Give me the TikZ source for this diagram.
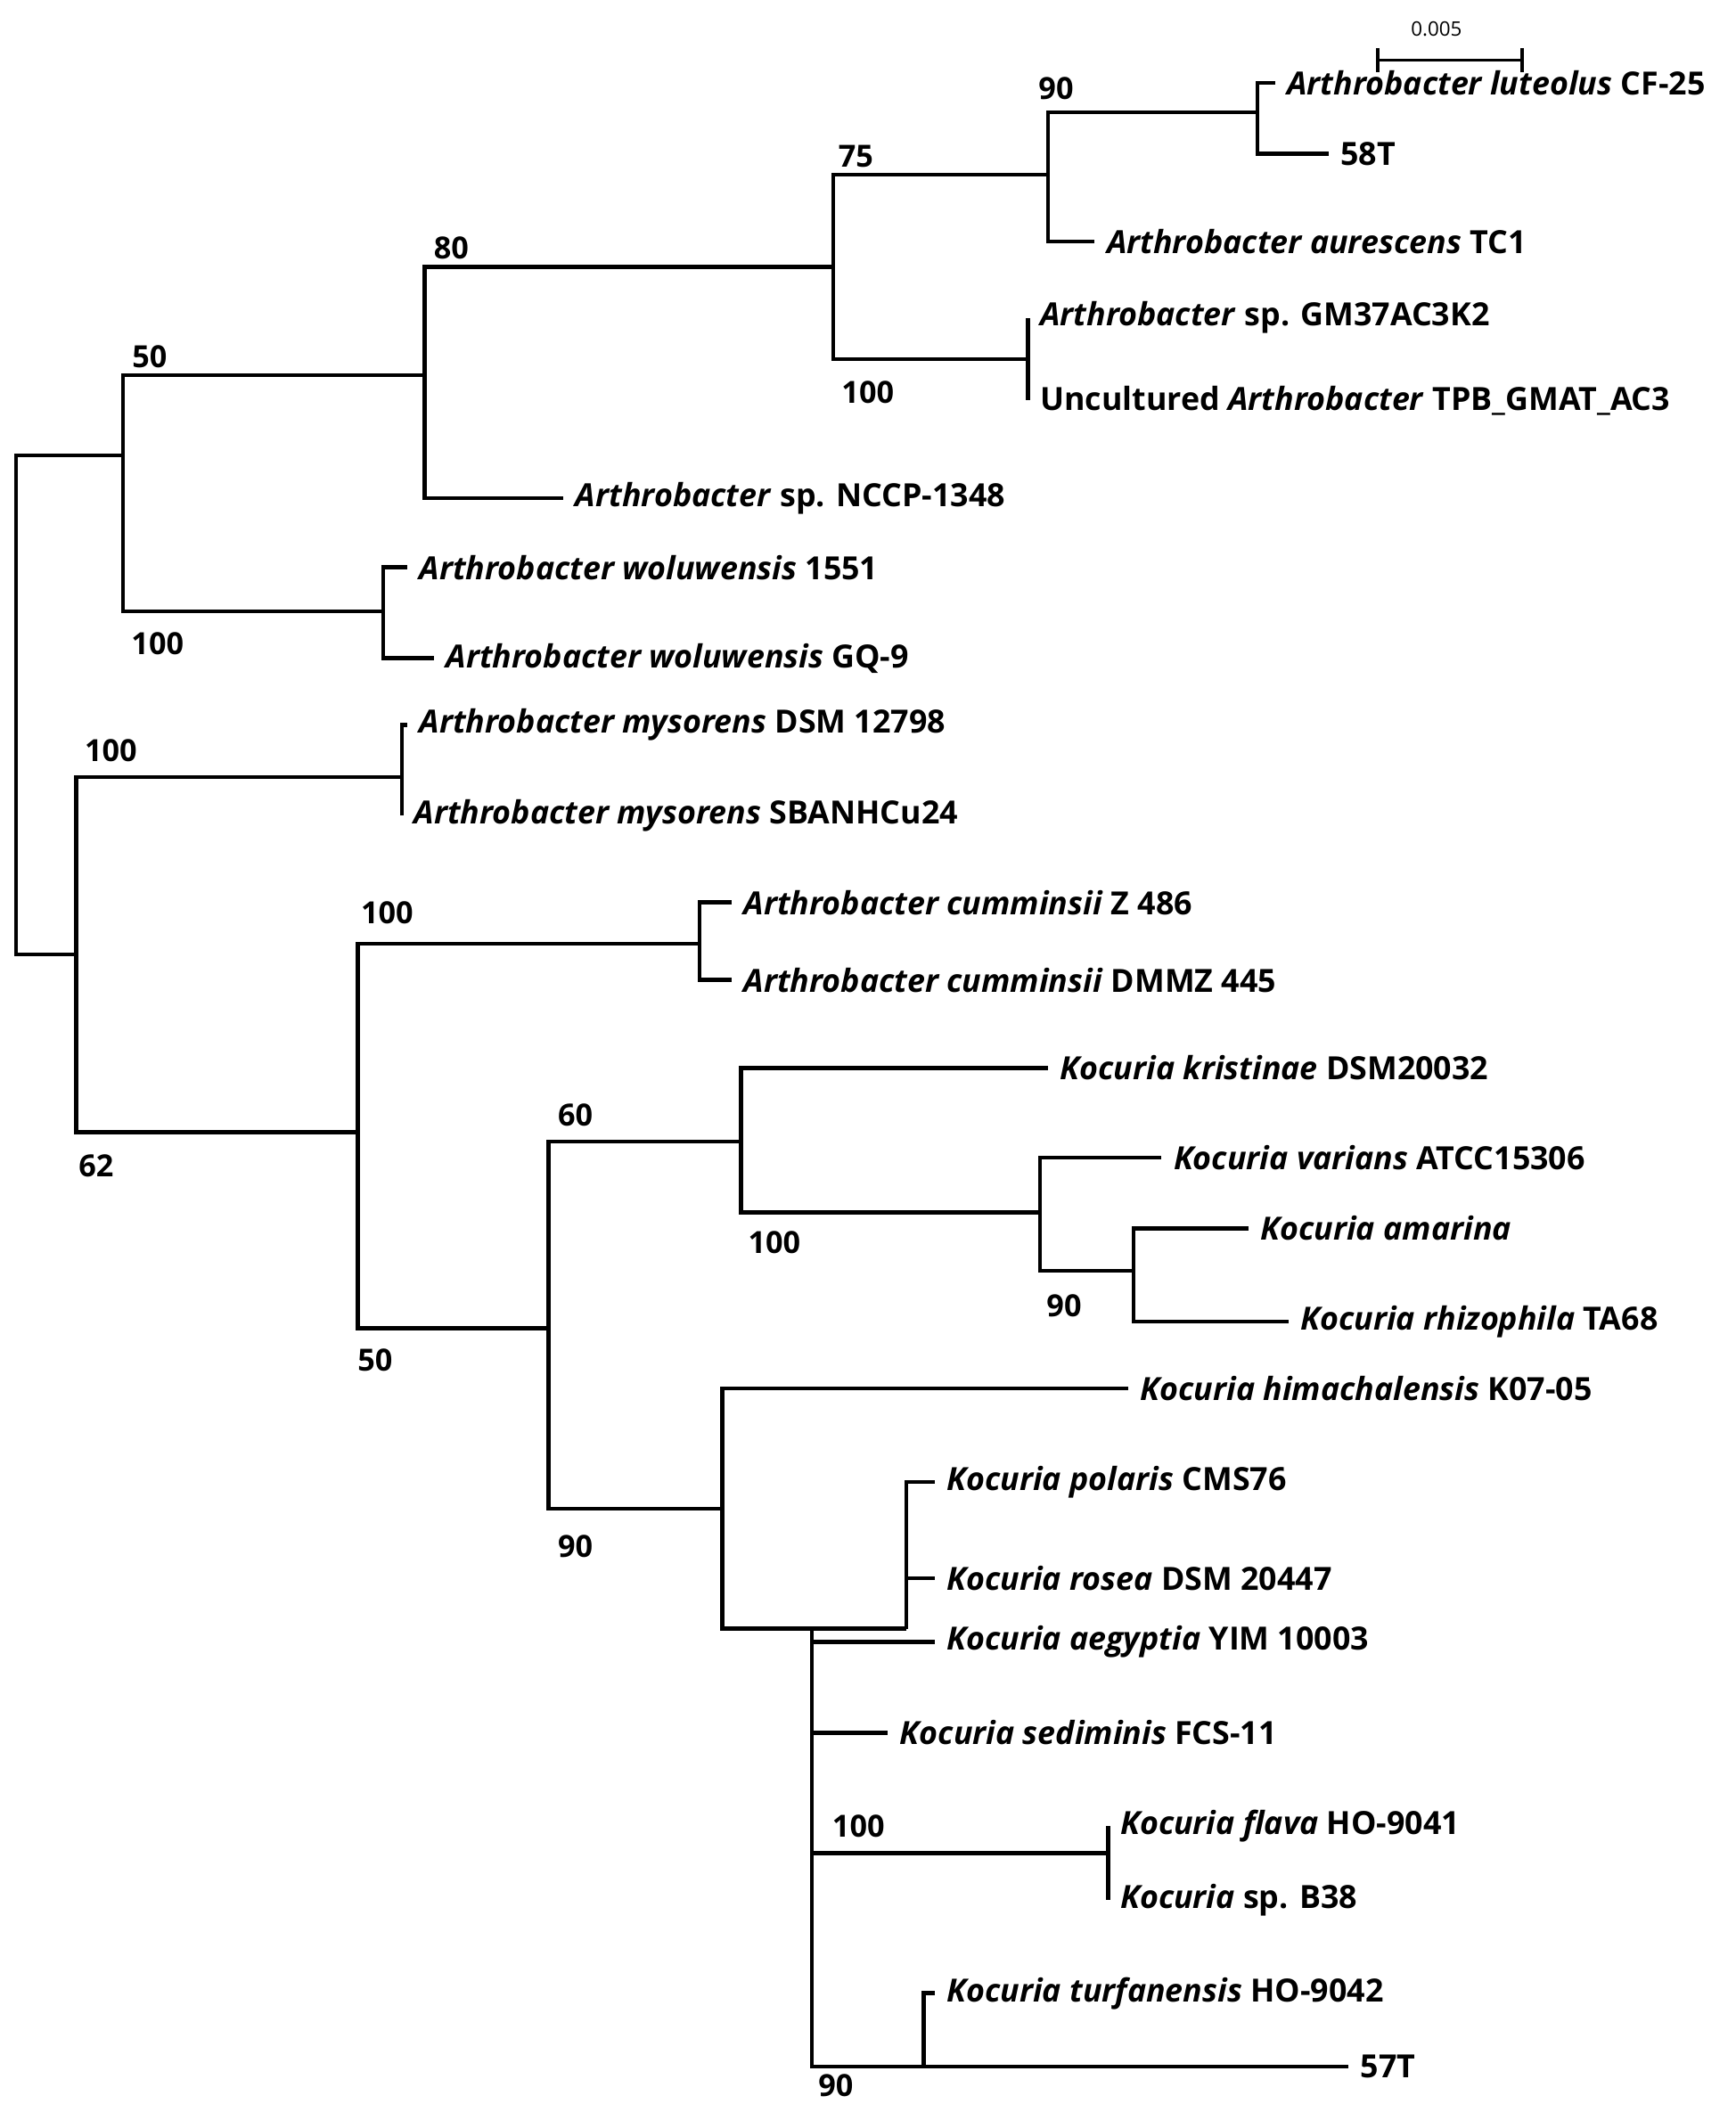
\documentclass[tikz,border=0pt]{standalone}
\usepackage{fontspec}
\setmainfont{Open Sans}
\usetikzlibrary{calc}
\tikzset{
  br/.style={line width=1.7pt},
  tx/.style={anchor=west,inner xsep=5pt,inner ysep=2pt,font=\bfseries\fontsize{13.6}{15}\selectfont},
  bs/.style={inner sep=1pt,font=\bfseries\fontsize{13}{15}\selectfont}
}
\begin{document}
\begin{tikzpicture}[x=0.02cm,y=-0.02cm]
\useasboundingbox (0,0) rectangle (1300,1576);
% internal nodes
\coordinate (root) at (12,528);
\coordinate (n50) at (92,341);
\coordinate (n80) at (318,281);
\coordinate (n75) at (624,200);
\coordinate (n90a) at (785,131);
\coordinate (nlut) at (942,84);
\coordinate (nsp) at (770,269);
\coordinate (nwol) at (287,458);
\coordinate (n62) at (57,715);
\coordinate (nmys) at (301,582);
\coordinate (nko) at (268,848);
\coordinate (ncum) at (524,707);
\coordinate (n50b) at (411,995);
\coordinate (n60) at (555,855);
\coordinate (n100k) at (779,908);
\coordinate (n90k) at (849,952);
\coordinate (n90b) at (541,1130);
\coordinate (npol) at (608,1220);
\coordinate (nros) at (679,1220);
\coordinate (nfla) at (830,1388);
\coordinate (ntur) at (692,1548);
% leaves
\node[tx] (l1) at (955,62) {\textit{Arthrobacter luteolus} CF-25};
\node[tx] (l2) at (995,115) {58T};
\node[tx] (l3) at (820,181) {\textit{Arthrobacter aurescens} TC1};
\node[tx] (l4) at (770,238) {\textit{Arthrobacter} sp. GM37AC3K2};
\node[tx] (l5) at (770,300) {Uncultured \textit{Arthrobacter} TPB\_GMAT\_AC3};
\node[tx] (l6) at (422,373) {\textit{Arthrobacter} sp. NCCP-1348};
\node[tx] (l7) at (305,425) {\textit{Arthrobacter woluwensis} 1551};
\node[tx] (l8) at (325,493) {\textit{Arthrobacter woluwensis} GQ-9};
\node[tx] (l9) at (305,543) {\textit{Arthrobacter mysorens} DSM 12798};
\node[tx] (l10) at (301,611) {\textit{Arthrobacter mysorens} SBANHCu24};
\node[tx] (l11) at (548,676) {\textit{Arthrobacter cumminsii} Z 486};
\node[tx] (l12) at (548,734) {\textit{Arthrobacter cumminsii} DMMZ 445};
\node[tx] (l13) at (785,800) {\textit{Kocuria kristinae} DSM20032};
\node[tx] (l14) at (870,867) {\textit{Kocuria varians} ATCC15306};
\node[tx] (l15) at (935,920) {\textit{Kocuria amarina}};
\node[tx] (l16) at (965,990) {\textit{Kocuria rhizophila} TA68};
\node[tx] (l17) at (845,1040) {\textit{Kocuria himachalensis} K07-05};
\node[tx] (l18) at (700,1110) {\textit{Kocuria polaris} CMS76};
\node[tx] (l19) at (700,1182) {\textit{Kocuria rosea} DSM 20447};
\node[tx] (l20) at (700,1230) {\textit{Kocuria aegyptia} YIM 10003};
\node[tx] (l21) at (665,1298) {\textit{Kocuria sediminis} FCS-11};
\node[tx] (l22) at (830,1368) {\textit{Kocuria flava} HO-9041};
\node[tx] (l23) at (830,1423) {\textit{Kocuria} sp. B38};
\node[tx] (l24) at (700,1493) {\textit{Kocuria turfanensis} HO-9042};
\node[tx] (l25) at (1010,1548) {57T};
% branches
\draw[br] (root) |- (n50); \draw[br] (root) |- (n62);
\draw[br] (n50) |- (n80); \draw[br] (n50) |- (nwol);
\draw[br] (n80) |- (n75); \draw[br] (n80) |- (l6.west);
\draw[br] (n75) |- (n90a); \draw[br] (n75) |- (nsp);
\draw[br] (n90a) |- (nlut); \draw[br] (n90a) |- (l3.west);
\draw[br] (nlut) |- (l1.west); \draw[br] (nlut) |- (l2.west);
\draw[br] (nsp) -- (l4.west); \draw[br] (nsp) -- (l5.west);
\draw[br] (nwol) |- (l7.west); \draw[br] (nwol) |- (l8.west);
\draw[br] (n62) |- (nmys); \draw[br] (n62) |- (nko);
\draw[br] (nmys) |- (l9.west); \draw[br] (nmys) |- (l10.west);
\draw[br] (nko) |- (ncum); \draw[br] (nko) |- (n50b);
\draw[br] (ncum) |- (l11.west); \draw[br] (ncum) |- (l12.west);
\draw[br] (n50b) |- (n60); \draw[br] (n50b) |- (n90b);
\draw[br] (n60) |- (l13.west); \draw[br] (n60) |- (n100k);
\draw[br] (n100k) |- (l14.west); \draw[br] (n100k) |- (n90k);
\draw[br] (n90k) |- (l15.west); \draw[br] (n90k) |- (l16.west);
\draw[br] (n90b) |- (l17.west); \draw[br] (n90b) |- (npol);
\draw[br] (npol) -- (nros);
\draw[br] (nros) |- (l18.west); \draw[br] (nros) |- (l19.west);
\draw[br] (npol) |- (l20.west); \draw[br] (npol) |- (l21.west);
\draw[br] (npol) |- (nfla); \draw[br] (npol) |- (ntur);
\draw[br] (nfla) |- (l22.west); \draw[br] (nfla) |- (l23.west);
\draw[br] (ntur) |- (l24.west); \draw[br] (ntur) -- (l25.west);
% bootstrap values
\node[bs] (b1) at (112,267) {50};
\node[bs] (b2) at (338,186) {80};
\node[bs] (b3) at (641,117) {75};
\node[bs] (b4) at (791,66) {90};
\node[bs] (b5) at (650,294) {100};
\node[bs] (b6) at (118,482) {100};
\node[bs] (b7) at (83,562) {100};
\node[bs] (b8) at (72,873) {62};
\node[bs] (b9) at (290,684) {100};
\node[bs] (b10) at (281,1019) {50};
\node[bs] (b11) at (431,835) {60};
\node[bs] (b12) at (580,931) {100};
\node[bs] (b13) at (797,978) {90};
\node[bs] (b14) at (431,1158) {90};
\node[bs] (b15) at (643,1368) {100};
\node[bs] (b16) at (626,1562) {90};
% scale bar
\coordinate (s1) at (1032,45); \coordinate (s2) at (1140,45);
\draw[line width=1.4pt] (s1) -- (s2);
\draw[line width=1.4pt] ($(s1)+(0,-9)$) -- ($(s1)+(0,9)$);
\draw[line width=1.4pt] ($(s2)+(0,-9)$) -- ($(s2)+(0,9)$);
\node[inner sep=1pt,font=\fontsize{8.5}{10}\selectfont] (sc) at (1076,22) {0.005};
\end{tikzpicture}
\end{document}
